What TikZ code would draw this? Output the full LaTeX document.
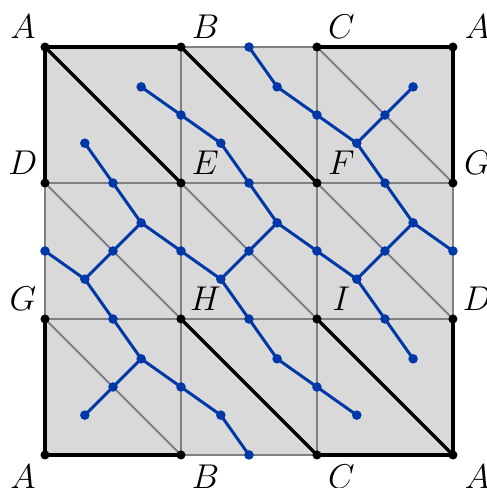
\documentclass[tikz,border=0pt]{standalone}
\usepackage{tikz}
\definecolor{bluedual}{RGB}{0,56,168}
\begin{document}
\begin{tikzpicture}[x=2cm,y=2cm,
  bdot/.style={circle,fill=black,inner sep=0pt,minimum size=3.8pt},
  udot/.style={circle,fill=bluedual,inner sep=0pt,minimum size=4pt},
  gline/.style={draw=black!50,line width=0.8pt},
  kline/.style={draw=black,line width=1.4pt,line cap=round},
  uline/.style={draw=bluedual,line width=1.25pt},
  lab/.style={font=\fontsize{13.5}{16}\selectfont,inner sep=0pt},
  labUL/.style={lab,xshift=-0.325cm,yshift=0.30cm},
  labUR/.style={lab,xshift=0.36cm,yshift=0.30cm},
  labDL/.style={lab,xshift=-0.325cm,yshift=-0.315cm},
  labDR/.style={lab,xshift=0.36cm,yshift=-0.315cm}]
\useasboundingbox (-0.331,-0.243) rectangle (3.25,3.346);
% grid vertices
\foreach \i in {0,1,2,3}{\foreach \j in {0,1,2,3}{\coordinate (c\i\j) at (\i,\j);}}
% dual points
\foreach \i in {0,1,2}{\foreach \j in {0,1,2}{
  \coordinate (L\i\j) at (\i+0.2929,\j+0.2929);
  \coordinate (U\i\j) at (\i+0.7071,\j+0.7071);
  \coordinate (D\i\j) at (\i+0.5,\j+0.5);}}
\foreach \i in {0,1,2}{\foreach \k in {0,1,2,3}{\coordinate (H\i\k) at (\i+0.5,\k);}}
\foreach \k in {0,1,2,3}{\foreach \j in {0,1,2}{\coordinate (V\k\j) at (\k,\j+0.5);}}
% background
\fill[black!15] (c00) rectangle (c33);
% gray grid and diagonals
\foreach \k in {0,1,2,3}{
  \draw[gline] (c0\k) -- (c3\k);
  \draw[gline] (c\k0) -- (c\k3);}
\foreach \i/\ii in {0/1,1/2,2/3}{\foreach \j/\jj in {0/1,1/2,2/3}{
  \draw[gline] (c\i\jj) -- (c\ii\j);}}
% thick black
\draw[kline] (c02) -- (c03) -- (c13);
\draw[kline] (c23) -- (c33) -- (c32);
\draw[kline] (c01) -- (c00) -- (c10);
\draw[kline] (c20) -- (c30) -- (c31);
\draw[kline] (c03) -- (c12);
\draw[kline] (c13) -- (c22);
\draw[kline] (c11) -- (c20);
\draw[kline] (c21) -- (c30);
% blue dual edges
\foreach \a/\b in {U02/V12,L02/H02,L12/V12,L12/H12,U12/H13,U12/V22,
  L22/V22,L22/D22,L22/H22,U22/D22,
  U00/H01,U00/D00,U00/V10,L00/D00,L10/V10,L10/H10,U10/H11,U10/V20,L20/V20,U20/H21}{
  \draw[uline] (\a) -- (\b);}
\foreach \i/\k in {0/1,1/2,2/3}{
  \draw[uline] (V\i1) -- (L\i1) -- (H\i1);
  \draw[uline] (L\i1) -- (D\i1) -- (U\i1) -- (V\k1);
  \draw[uline] (U\i1) -- (H\i2);}
% blue dots
\foreach \p in {U02,V12,L02,H02,L12,H12,U12,H13,V22,L22,D22,H22,U22,
  L01,V01,D01,H01,U01,V11,L11,D11,H11,U11,V21,L21,D21,H21,U21,V31,
  U00,D00,V10,L00,L10,H10,U10,V20,L20,U20}{
  \node[udot] (n\p) at (\p) {};}
% black dots
\foreach \i in {0,1,2,3}{\foreach \j in {0,1,2,3}{\node[bdot] (v\i\j) at (c\i\j) {};}}
% labels
\node[labUL] (lA1) at (v03) {$A$};
\node[labUR] (lB1) at (v13) {$B$};
\node[labUR] (lC1) at (v23) {$C$};
\node[labUR] (lA2) at (v33) {$A$};
\node[labUL] (lD1) at (v02) {$D$};
\node[labUR] (lE) at (v12) {$E$};
\node[labUR] (lF) at (v22) {$F$};
\node[labUR] (lG1) at (v32) {$G$};
\node[labUL] (lG2) at (v01) {$G$};
\node[labUR] (lH) at (v11) {$H$};
\node[labUR] (lI) at (v21) {$I$};
\node[labUR] (lD2) at (v31) {$D$};
\node[labDL] (lA3) at (v00) {$A$};
\node[labDR] (lB2) at (v10) {$B$};
\node[labDR] (lC2) at (v20) {$C$};
\node[labDR] (lA4) at (v30) {$A$};
\end{tikzpicture}
\end{document}
